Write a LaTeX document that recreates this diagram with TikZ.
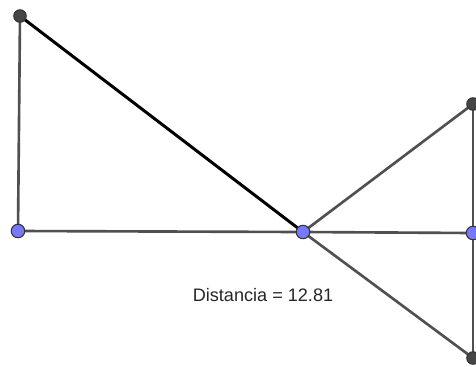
\documentclass[tikz,border=0pt]{standalone}
\usepackage{fontspec}
\setmainfont{Liberation Sans}
\usepackage{xcolor}
\definecolor{segray}{RGB}{80,80,80}
\definecolor{ptblue}{RGB}{120,120,255}
\definecolor{ptdark}{RGB}{70,70,70}

\begin{document}
\begin{tikzpicture}[
    x=0.02cm, y=-0.02cm,
    seg/.style={draw=segray, line width=1.5pt},
    segdist/.style={draw=black, line width=1.7pt},
    freept/.style={circle, draw=black!80, fill=ptblue, line width=0.6pt, inner sep=0pt, minimum size=0.27cm},
    fixpt/.style={circle, draw=black!80, fill=ptdark, line width=0.6pt, inner sep=0pt, minimum size=0.25cm},
    label/.style={font=\fontsize{10.3}{12}\selectfont, text=black!85}
]
    \useasboundingbox (0,0) rectangle (476,366);

    % Vertices
    \coordinate (A) at (20,16);
    \coordinate (B) at (18,231);
    \coordinate (C) at (303,232);
    \coordinate (D) at (473,104);
    \coordinate (E) at (473,233);
    \coordinate (F) at (473,358);

    % Segments
    \draw[seg] (A) -- (B);
    \draw[seg] (B) -- (C);
    \draw[seg] (C) -- (D);
    \draw[seg] (C) -- (E);
    \draw[seg] (C) -- (F);
    \draw[seg] (D) -- (F);
    \draw[segdist] (A) -- (C);

    % Points
    \node[fixpt] (pA) at (A) {};
    \node[freept] (pB) at (B) {};
    \node[freept] (pC) at (C) {};
    \node[fixpt] (pD) at (D) {};
    \node[freept] (pE) at (E) {};
    \node[fixpt] (pF) at (F) {};

    % Distance
    \node[label] (dist) at (263,295) {Distancia = 12.81};
\end{tikzpicture}
\end{document}
